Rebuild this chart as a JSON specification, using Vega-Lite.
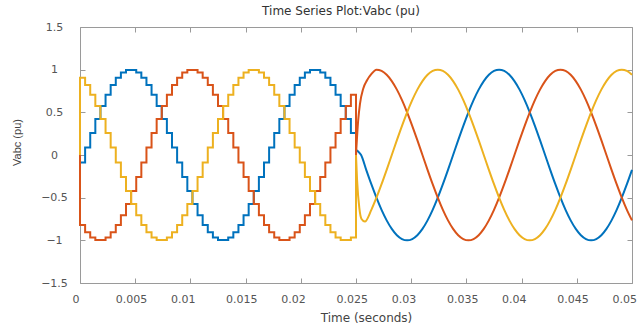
{
"$schema": "https://vega.github.io/schema/vega-lite/v6.json",
"width": 552, "height": 256,
"autosize": "none",
"padding": {"left": 80, "top": 27, "right": 9, "bottom": 43},
"background": "white",
"config": {"view": {"stroke": null}},
"title": {"text": "Time Series Plot:Vabc (pu)", "font": "DejaVu Sans", "fontSize": 12, "fontWeight": "normal", "color": "#333333", "anchor": "middle", "dx": -15, "offset": 3},
"datasets": {
"step": [
{"t":0,"s":"A","v":0},{"t":0,"s":"A","v":-0.087},{"t":0.000463,"s":"A","v":0.087},{"t":0.000926,"s":"A","v":0.259},{"t":0.001389,"s":"A","v":0.423},{"t":0.001852,"s":"A","v":0.574},{"t":0.002315,"s":"A","v":0.707},{"t":0.002778,"s":"A","v":0.819},{"t":0.003241,"s":"A","v":0.906},{"t":0.003704,"s":"A","v":0.966},{"t":0.004167,"s":"A","v":0.996},{"t":0.00463,"s":"A","v":0.996},{"t":0.005093,"s":"A","v":0.966},{"t":0.005556,"s":"A","v":0.906},{"t":0.006019,"s":"A","v":0.819},{"t":0.006481,"s":"A","v":0.707},{"t":0.006944,"s":"A","v":0.574},{"t":0.007407,"s":"A","v":0.423},{"t":0.00787,"s":"A","v":0.259},{"t":0.008333,"s":"A","v":0.087},{"t":0.008796,"s":"A","v":-0.087},{"t":0.009259,"s":"A","v":-0.259},{"t":0.009722,"s":"A","v":-0.423},{"t":0.010185,"s":"A","v":-0.574},{"t":0.010648,"s":"A","v":-0.707},{"t":0.011111,"s":"A","v":-0.819},{"t":0.011574,"s":"A","v":-0.906},{"t":0.012037,"s":"A","v":-0.966},{"t":0.0125,"s":"A","v":-0.996},{"t":0.012963,"s":"A","v":-0.996},{"t":0.013426,"s":"A","v":-0.966},{"t":0.013889,"s":"A","v":-0.906},{"t":0.014352,"s":"A","v":-0.819},{"t":0.014815,"s":"A","v":-0.707},{"t":0.015278,"s":"A","v":-0.574},{"t":0.015741,"s":"A","v":-0.423},{"t":0.016204,"s":"A","v":-0.259},{"t":0.016667,"s":"A","v":-0.087},{"t":0.01713,"s":"A","v":0.087},{"t":0.017593,"s":"A","v":0.259},{"t":0.018056,"s":"A","v":0.423},{"t":0.018519,"s":"A","v":0.574},{"t":0.018981,"s":"A","v":0.707},{"t":0.019444,"s":"A","v":0.819},{"t":0.019907,"s":"A","v":0.906},{"t":0.02037,"s":"A","v":0.966},{"t":0.020833,"s":"A","v":0.996},{"t":0.021296,"s":"A","v":0.996},{"t":0.021759,"s":"A","v":0.966},{"t":0.022222,"s":"A","v":0.906},{"t":0.022685,"s":"A","v":0.819},{"t":0.023148,"s":"A","v":0.707},{"t":0.023611,"s":"A","v":0.574},{"t":0.024074,"s":"A","v":0.423},{"t":0.024537,"s":"A","v":0.259},{"t":0.025,"s":"A","v":0.06},
{"t":0,"s":"B","v":0},{"t":0,"s":"B","v":-0.819},{"t":0.000463,"s":"B","v":-0.906},{"t":0.000926,"s":"B","v":-0.966},{"t":0.001389,"s":"B","v":-0.996},{"t":0.001852,"s":"B","v":-0.996},{"t":0.002315,"s":"B","v":-0.966},{"t":0.002778,"s":"B","v":-0.906},{"t":0.003241,"s":"B","v":-0.819},{"t":0.003704,"s":"B","v":-0.707},{"t":0.004167,"s":"B","v":-0.574},{"t":0.00463,"s":"B","v":-0.423},{"t":0.005093,"s":"B","v":-0.259},{"t":0.005556,"s":"B","v":-0.087},{"t":0.006019,"s":"B","v":0.087},{"t":0.006481,"s":"B","v":0.259},{"t":0.006944,"s":"B","v":0.423},{"t":0.007407,"s":"B","v":0.574},{"t":0.00787,"s":"B","v":0.707},{"t":0.008333,"s":"B","v":0.819},{"t":0.008796,"s":"B","v":0.906},{"t":0.009259,"s":"B","v":0.966},{"t":0.009722,"s":"B","v":0.996},{"t":0.010185,"s":"B","v":0.996},{"t":0.010648,"s":"B","v":0.966},{"t":0.011111,"s":"B","v":0.906},{"t":0.011574,"s":"B","v":0.819},{"t":0.012037,"s":"B","v":0.707},{"t":0.0125,"s":"B","v":0.574},{"t":0.012963,"s":"B","v":0.423},{"t":0.013426,"s":"B","v":0.259},{"t":0.013889,"s":"B","v":0.087},{"t":0.014352,"s":"B","v":-0.087},{"t":0.014815,"s":"B","v":-0.259},{"t":0.015278,"s":"B","v":-0.423},{"t":0.015741,"s":"B","v":-0.574},{"t":0.016204,"s":"B","v":-0.707},{"t":0.016667,"s":"B","v":-0.819},{"t":0.01713,"s":"B","v":-0.906},{"t":0.017593,"s":"B","v":-0.966},{"t":0.018056,"s":"B","v":-0.996},{"t":0.018519,"s":"B","v":-0.996},{"t":0.018981,"s":"B","v":-0.966},{"t":0.019444,"s":"B","v":-0.906},{"t":0.019907,"s":"B","v":-0.819},{"t":0.02037,"s":"B","v":-0.707},{"t":0.020833,"s":"B","v":-0.574},{"t":0.021296,"s":"B","v":-0.423},{"t":0.021759,"s":"B","v":-0.259},{"t":0.022222,"s":"B","v":-0.087},{"t":0.022685,"s":"B","v":0.087},{"t":0.023148,"s":"B","v":0.259},{"t":0.023611,"s":"B","v":0.423},{"t":0.024074,"s":"B","v":0.574},{"t":0.024537,"s":"B","v":0.707},{"t":0.025,"s":"B","v":0},
{"t":0,"s":"C","v":0},{"t":0,"s":"C","v":0.906},{"t":0.000463,"s":"C","v":0.819},{"t":0.000926,"s":"C","v":0.707},{"t":0.001389,"s":"C","v":0.574},{"t":0.001852,"s":"C","v":0.423},{"t":0.002315,"s":"C","v":0.259},{"t":0.002778,"s":"C","v":0.087},{"t":0.003241,"s":"C","v":-0.087},{"t":0.003704,"s":"C","v":-0.259},{"t":0.004167,"s":"C","v":-0.423},{"t":0.00463,"s":"C","v":-0.574},{"t":0.005093,"s":"C","v":-0.707},{"t":0.005556,"s":"C","v":-0.819},{"t":0.006019,"s":"C","v":-0.906},{"t":0.006481,"s":"C","v":-0.966},{"t":0.006944,"s":"C","v":-0.996},{"t":0.007407,"s":"C","v":-0.996},{"t":0.00787,"s":"C","v":-0.966},{"t":0.008333,"s":"C","v":-0.906},{"t":0.008796,"s":"C","v":-0.819},{"t":0.009259,"s":"C","v":-0.707},{"t":0.009722,"s":"C","v":-0.574},{"t":0.010185,"s":"C","v":-0.423},{"t":0.010648,"s":"C","v":-0.259},{"t":0.011111,"s":"C","v":-0.087},{"t":0.011574,"s":"C","v":0.087},{"t":0.012037,"s":"C","v":0.259},{"t":0.0125,"s":"C","v":0.423},{"t":0.012963,"s":"C","v":0.574},{"t":0.013426,"s":"C","v":0.707},{"t":0.013889,"s":"C","v":0.819},{"t":0.014352,"s":"C","v":0.906},{"t":0.014815,"s":"C","v":0.966},{"t":0.015278,"s":"C","v":0.996},{"t":0.015741,"s":"C","v":0.996},{"t":0.016204,"s":"C","v":0.966},{"t":0.016667,"s":"C","v":0.906},{"t":0.01713,"s":"C","v":0.819},{"t":0.017593,"s":"C","v":0.707},{"t":0.018056,"s":"C","v":0.574},{"t":0.018519,"s":"C","v":0.423},{"t":0.018981,"s":"C","v":0.259},{"t":0.019444,"s":"C","v":0.087},{"t":0.019907,"s":"C","v":-0.087},{"t":0.02037,"s":"C","v":-0.259},{"t":0.020833,"s":"C","v":-0.423},{"t":0.021296,"s":"C","v":-0.574},{"t":0.021759,"s":"C","v":-0.707},{"t":0.022222,"s":"C","v":-0.819},{"t":0.022685,"s":"C","v":-0.906},{"t":0.023148,"s":"C","v":-0.966},{"t":0.023611,"s":"C","v":-0.996},{"t":0.024074,"s":"C","v":-0.996},{"t":0.024537,"s":"C","v":-0.966},{"t":0.025,"s":"C","v":0}
],
"smooth": [
{"t":0.025,"s":"A","v":0.06},{"t":0.0252,"s":"A","v":0.04},{"t":0.025463,"s":"A","v":0},{"t":0.025926,"s":"A","v":-0.174},{"t":0.026389,"s":"A","v":-0.342},{"t":0.026852,"s":"A","v":-0.5},{"t":0.027315,"s":"A","v":-0.643},{"t":0.027778,"s":"A","v":-0.766},{"t":0.028241,"s":"A","v":-0.866},{"t":0.028704,"s":"A","v":-0.94},{"t":0.029167,"s":"A","v":-0.985},{"t":0.02963,"s":"A","v":-1},{"t":0.030093,"s":"A","v":-0.985},{"t":0.030556,"s":"A","v":-0.94},{"t":0.031019,"s":"A","v":-0.866},{"t":0.031481,"s":"A","v":-0.766},{"t":0.031944,"s":"A","v":-0.643},{"t":0.032407,"s":"A","v":-0.5},{"t":0.03287,"s":"A","v":-0.342},{"t":0.033333,"s":"A","v":-0.174},{"t":0.033796,"s":"A","v":0},{"t":0.034259,"s":"A","v":0.174},{"t":0.034722,"s":"A","v":0.342},{"t":0.035185,"s":"A","v":0.5},{"t":0.035648,"s":"A","v":0.643},{"t":0.036111,"s":"A","v":0.766},{"t":0.036574,"s":"A","v":0.866},{"t":0.037037,"s":"A","v":0.94},{"t":0.0375,"s":"A","v":0.985},{"t":0.037963,"s":"A","v":1},{"t":0.038426,"s":"A","v":0.985},{"t":0.038889,"s":"A","v":0.94},{"t":0.039352,"s":"A","v":0.866},{"t":0.039815,"s":"A","v":0.766},{"t":0.040278,"s":"A","v":0.643},{"t":0.040741,"s":"A","v":0.5},{"t":0.041204,"s":"A","v":0.342},{"t":0.041667,"s":"A","v":0.174},{"t":0.04213,"s":"A","v":0},{"t":0.042593,"s":"A","v":-0.174},{"t":0.043056,"s":"A","v":-0.342},{"t":0.043519,"s":"A","v":-0.5},{"t":0.043981,"s":"A","v":-0.643},{"t":0.044444,"s":"A","v":-0.766},{"t":0.044907,"s":"A","v":-0.866},{"t":0.04537,"s":"A","v":-0.94},{"t":0.045833,"s":"A","v":-0.985},{"t":0.046296,"s":"A","v":-1},{"t":0.046759,"s":"A","v":-0.985},{"t":0.047222,"s":"A","v":-0.94},{"t":0.047685,"s":"A","v":-0.866},{"t":0.048148,"s":"A","v":-0.766},{"t":0.048611,"s":"A","v":-0.643},{"t":0.049074,"s":"A","v":-0.5},{"t":0.049537,"s":"A","v":-0.342},{"t":0.05,"s":"A","v":-0.174},
{"t":0.025,"s":"B","v":0},{"t":0.0252,"s":"B","v":0.41},{"t":0.02536,"s":"B","v":0.6},{"t":0.02566,"s":"B","v":0.78},{"t":0.026,"s":"B","v":0.875},{"t":0.0264,"s":"B","v":0.95},{"t":0.026852,"s":"B","v":1},{"t":0.027315,"s":"B","v":0.985},{"t":0.027778,"s":"B","v":0.94},{"t":0.028241,"s":"B","v":0.866},{"t":0.028704,"s":"B","v":0.766},{"t":0.029167,"s":"B","v":0.643},{"t":0.02963,"s":"B","v":0.5},{"t":0.030093,"s":"B","v":0.342},{"t":0.030556,"s":"B","v":0.174},{"t":0.031019,"s":"B","v":0},{"t":0.031481,"s":"B","v":-0.174},{"t":0.031944,"s":"B","v":-0.342},{"t":0.032407,"s":"B","v":-0.5},{"t":0.03287,"s":"B","v":-0.643},{"t":0.033333,"s":"B","v":-0.766},{"t":0.033796,"s":"B","v":-0.866},{"t":0.034259,"s":"B","v":-0.94},{"t":0.034722,"s":"B","v":-0.985},{"t":0.035185,"s":"B","v":-1},{"t":0.035648,"s":"B","v":-0.985},{"t":0.036111,"s":"B","v":-0.94},{"t":0.036574,"s":"B","v":-0.866},{"t":0.037037,"s":"B","v":-0.766},{"t":0.0375,"s":"B","v":-0.643},{"t":0.037963,"s":"B","v":-0.5},{"t":0.038426,"s":"B","v":-0.342},{"t":0.038889,"s":"B","v":-0.174},{"t":0.039352,"s":"B","v":0},{"t":0.039815,"s":"B","v":0.174},{"t":0.040278,"s":"B","v":0.342},{"t":0.040741,"s":"B","v":0.5},{"t":0.041204,"s":"B","v":0.643},{"t":0.041667,"s":"B","v":0.766},{"t":0.04213,"s":"B","v":0.866},{"t":0.042593,"s":"B","v":0.94},{"t":0.043056,"s":"B","v":0.985},{"t":0.043519,"s":"B","v":1},{"t":0.043981,"s":"B","v":0.985},{"t":0.044444,"s":"B","v":0.94},{"t":0.044907,"s":"B","v":0.866},{"t":0.04537,"s":"B","v":0.766},{"t":0.045833,"s":"B","v":0.643},{"t":0.046296,"s":"B","v":0.5},{"t":0.046759,"s":"B","v":0.342},{"t":0.047222,"s":"B","v":0.174},{"t":0.047685,"s":"B","v":0},{"t":0.048148,"s":"B","v":-0.174},{"t":0.048611,"s":"B","v":-0.342},{"t":0.049074,"s":"B","v":-0.5},{"t":0.049537,"s":"B","v":-0.643},{"t":0.05,"s":"B","v":-0.766},
{"t":0.025,"s":"C","v":0},{"t":0.0251,"s":"C","v":-0.3},{"t":0.0253,"s":"C","v":-0.62},{"t":0.0255,"s":"C","v":-0.75},{"t":0.0258,"s":"C","v":-0.78},{"t":0.026389,"s":"C","v":-0.643},{"t":0.026852,"s":"C","v":-0.5},{"t":0.027315,"s":"C","v":-0.342},{"t":0.027778,"s":"C","v":-0.174},{"t":0.028241,"s":"C","v":0},{"t":0.028704,"s":"C","v":0.174},{"t":0.029167,"s":"C","v":0.342},{"t":0.02963,"s":"C","v":0.5},{"t":0.030093,"s":"C","v":0.643},{"t":0.030556,"s":"C","v":0.766},{"t":0.031019,"s":"C","v":0.866},{"t":0.031481,"s":"C","v":0.94},{"t":0.031944,"s":"C","v":0.985},{"t":0.032407,"s":"C","v":1},{"t":0.03287,"s":"C","v":0.985},{"t":0.033333,"s":"C","v":0.94},{"t":0.033796,"s":"C","v":0.866},{"t":0.034259,"s":"C","v":0.766},{"t":0.034722,"s":"C","v":0.643},{"t":0.035185,"s":"C","v":0.5},{"t":0.035648,"s":"C","v":0.342},{"t":0.036111,"s":"C","v":0.174},{"t":0.036574,"s":"C","v":0},{"t":0.037037,"s":"C","v":-0.174},{"t":0.0375,"s":"C","v":-0.342},{"t":0.037963,"s":"C","v":-0.5},{"t":0.038426,"s":"C","v":-0.643},{"t":0.038889,"s":"C","v":-0.766},{"t":0.039352,"s":"C","v":-0.866},{"t":0.039815,"s":"C","v":-0.94},{"t":0.040278,"s":"C","v":-0.985},{"t":0.040741,"s":"C","v":-1},{"t":0.041204,"s":"C","v":-0.985},{"t":0.041667,"s":"C","v":-0.94},{"t":0.04213,"s":"C","v":-0.866},{"t":0.042593,"s":"C","v":-0.766},{"t":0.043056,"s":"C","v":-0.643},{"t":0.043519,"s":"C","v":-0.5},{"t":0.043981,"s":"C","v":-0.342},{"t":0.044444,"s":"C","v":-0.174},{"t":0.044907,"s":"C","v":0},{"t":0.04537,"s":"C","v":0.174},{"t":0.045833,"s":"C","v":0.342},{"t":0.046296,"s":"C","v":0.5},{"t":0.046759,"s":"C","v":0.643},{"t":0.047222,"s":"C","v":0.766},{"t":0.047685,"s":"C","v":0.866},{"t":0.048148,"s":"C","v":0.94},{"t":0.048611,"s":"C","v":0.985},{"t":0.049074,"s":"C","v":1},{"t":0.049537,"s":"C","v":0.985},{"t":0.05,"s":"C","v":0.94}
]
},
"layer": [
{
"data": {"name": "step"},
"mark": {"type": "line", "interpolate": "step-after", "strokeWidth": 2},
"encoding": {
"x": {"field": "t", "type": "quantitative", "scale": {"domain": [0, 0.05], "nice": false, "zero": false},
"axis": {"orient": "bottom", "values": [0,0.005,0.01,0.015,0.02,0.025,0.03,0.035,0.04,0.045,0.05], "format": "~g", "grid": false, "tickSize": -5, "tickColor": "#9a9a9a", "domainColor": "#9a9a9a", "labelFont": "DejaVu Sans", "labelFontSize": 11, "labelColor": "#555555", "labelPadding": 15, "labelAlign": "left", "labelOffset": {"condition": {"test": "datum.value == 0", "value": -8}, "value": -20}, "labelFlush": false, "title": "Time (seconds)", "titleFont": "DejaVu Sans", "titleFontSize": 12, "titleFontWeight": "normal", "titleColor": "#444444", "titleX": 286, "titleY": 34, "titleBaseline": "middle", "titleAlign": "center"}},
"y": {"field": "v", "type": "quantitative", "scale": {"domain": [-1.5, 1.5], "nice": false, "zero": false},
"axis": {"orient": "left", "values": [-1.5,-1,-0.5,0,0.5,1,1.5], "format": "~g", "grid": false, "tickSize": -5, "tickColor": "#9a9a9a", "domainColor": "#9a9a9a", "labelFont": "DejaVu Sans", "labelFontSize": 11, "labelColor": "#555555", "labelAlign": "center", "labelBaseline": "middle", "labelPadding": 31, "labelFlush": false, "title": "Vabc (pu)", "titleFont": "Liberation Sans", "titleFontSize": 11, "titleFontWeight": "normal", "titleColor": "#444444", "titleX": -63, "titleY": 115, "titleAngle": -90, "titleBaseline": "middle", "titleAlign": "center"}},
"color": {"field": "s", "type": "nominal", "scale": {"domain": ["A","B","C"], "range": ["#0072BD","#D95319","#EDB120"]}, "legend": null},
"order": {"value": null}
}
},
{
"data": {"name": "smooth"},
"mark": {"type": "line", "interpolate": "monotone", "strokeWidth": 2},
"encoding": {
"x": {"field": "t", "type": "quantitative", "scale": {"domain": [0, 0.05], "nice": false, "zero": false},
"axis": {"orient": "top", "values": [0,0.005,0.01,0.015,0.02,0.025,0.03,0.035,0.04,0.045,0.05], "labels": false, "title": null, "grid": false, "tickSize": -5, "tickColor": "#9a9a9a", "domainColor": "#9a9a9a"}},
"y": {"field": "v", "type": "quantitative", "scale": {"domain": [-1.5, 1.5], "nice": false, "zero": false},
"axis": {"orient": "right", "values": [-1.5,-1,-0.5,0,0.5,1,1.5], "labels": false, "title": null, "grid": false, "tickSize": -5, "tickColor": "#9a9a9a", "domainColor": "#9a9a9a"}},
"color": {"field": "s", "type": "nominal", "scale": {"domain": ["A","B","C"], "range": ["#0072BD","#D95319","#EDB120"]}, "legend": null},
"order": {"value": null}
}
}
],
"resolve": {"axis": {"x": "independent", "y": "independent"}}
}
